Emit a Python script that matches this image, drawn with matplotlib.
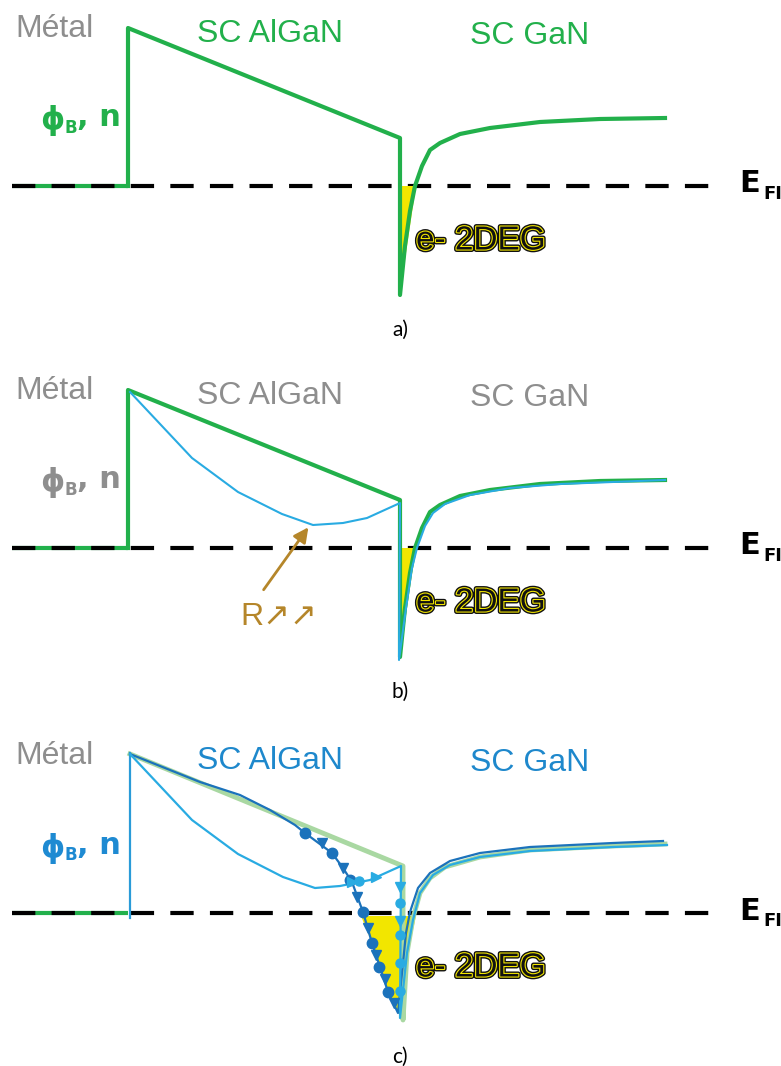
import numpy as np
import matplotlib.pyplot as plt
import matplotlib.patheffects as pe

# band profiles, x along the structure, energy above the Fermi level (same units)
metal_x = [12, 128]
band_x = [128, 128, 400, 400]
band_e = [0, 158, 48, -109]
gan_x = [400, 405, 410, 415, 422, 430, 440, 460, 490, 540, 600, 665]
gan_e = [-109, -60, -25, 0, 20, 36, 43, 52, 58, 64, 67, 68]
well_x = [400, 416, 400]
well_e = [0, 0, -107]

# panel b : high resistance barrier
bR_x = [130, 192, 238, 282, 313, 343, 367, 400, 399]
bR_e = [156, 90, 56, 34, 23, 25, 30, 45, -112]
bR_gan_x = [399, 406, 412, 417, 425, 433, 445, 470, 510, 560, 665]
bR_gan_e = [-112, -60, -20, 0, 22, 35, 44, 53, 60, 64, 68]

# panel c : trapping paths
cG_x = [130, 403, 403, 407, 413, 420, 430, 445, 480, 530, 613, 665]
cG_e = [159, 47, -107, -40, -5, 20, 35, 46, 56, 63, 67, 69]
cD_x = [130, 200, 240, 270, 295, 305, 332, 343, 352, 363, 372, 380, 388, 398]
cD_e = [159, 131, 118, 103, 88, 80, 60, 45, 31, 1, -30, -54, -79, -100]
cD_gan_x = [398, 402, 406, 410, 418, 430, 450, 480, 530, 613, 663]
cD_gan_e = [-100, -60, -20, 1, 25, 40, 52, 60, 66, 70, 72]
cL_x = [130, 192, 238, 283, 315, 340, 370, 401, 400]
cL_e = [159, 93, 59, 36, 25, 27, 33, 47, -105]
cL_gan_x = [400, 407, 413, 420, 433, 450, 480, 530, 613, 667]
cL_gan_e = [-105, -40, -7, 20, 38, 48, 56, 62, 66, 68]
dot_x = [305, 332, 363, 372, 379, 388, 350]
dot_e = [80, 60, 1, -30, -54, -79, 33]
tri_x = [322, 343, 357, 368, 376, 385, 394]
tri_e = [70, 45, 16, -15, -42, -66, -90]
lb_dot_x = [400, 400, 400, 400, 359]
lb_dot_e = [10, -22, -50, -78, 32]
lb_tri_x = [400, 400, 376, 352]
lb_tri_e = [26, -8, 36, 31]
cWell_x = [361, 372, 380, 388, 398, 401, 408, 416]
cWell_e = [-3, -30, -54, -79, -100, -103, -40, -3]

GREEN = '#22b04b'
GREY = '#8e8e8e'
LBLUE = '#29abe2'
DBLUE = '#1b72bb'
PGREEN = '#a9d8a2'
YEL = '#f2e600'
BROWN = '#b5862a'
FONT = ['Liberation Sans', 'DejaVu Sans']

fig = plt.figure(figsize=(7.81, 10.66), dpi=100)
ax = fig.add_axes([0, 0, 1, 1])
ax.set_xlim(0, 781)
ax.set_ylim(1066, 0)
ax.axis('off')


def Y(e, ef):
    return ef - np.asarray(e)


def frame(ef, lab_col, sc_col, phi_col, tag):
    ax.plot(metal_x, Y([0, 0], ef), color=GREEN, lw=3, solid_capstyle='butt', zorder=1)
    ax.plot([12, 720], Y([0, 0], ef), color='black', lw=3, dashes=(5.6, 3.9),
            dash_capstyle='butt', zorder=2)
    ax.text(15, ef - 157, 'Métal', color=lab_col, fontsize=23, family=FONT, va='center')
    ax.text(270, ef - 152, 'SC AlGaN', color=sc_col, fontsize=23, family=FONT,
            va='center', ha='center')
    ax.text(530, ef - 150, 'SC GaN', color=sc_col, fontsize=23, family=FONT,
            va='center', ha='center')
    ax.text(40, ef - 65, 'ϕ', color=phi_col, fontsize=22, family='DejaVu Sans',
            weight='bold', va='center')
    ax.text(65, ef - 58, 'B', color=phi_col, fontsize=12, family='DejaVu Sans',
            weight='bold', va='center')
    ax.text(77, ef - 68, ', n', color=phi_col, fontsize=22, family='DejaVu Sans',
            weight='bold', va='center')
    ax.text(739, ef - 2, 'E', color='black', fontsize=22, family='DejaVu Sans',
            weight='bold', va='center')
    ax.text(763, ef + 8, 'FI', color='black', fontsize=13, family='DejaVu Sans',
            weight='bold', va='center')
    ax.text(416, ef + 55, 'e- 2DEG', color='#111111', fontsize=24, family=FONT,
            va='center', zorder=6,
            path_effects=[pe.Stroke(linewidth=3.6, foreground='#111111'),
                          pe.Stroke(linewidth=1.6, foreground=YEL),
                          pe.Normal()])
    ax.text(400, ef + 144, tag, color='black', fontsize=15, family='Lato',
            va='center', ha='center')


# ---- a)
ef = 186
frame(ef, GREY, GREEN, GREEN, 'a)')
ax.fill(well_x, Y(well_e, ef), color=YEL, lw=0, zorder=3)
ax.plot(band_x + gan_x, Y(band_e + gan_e, ef), color=GREEN, lw=3, zorder=4)

# ---- b)
ef = 548
frame(ef, GREY, GREY, GREY, 'b)')
ax.fill(well_x, Y(well_e, ef), color=YEL, lw=0, zorder=3)
ax.plot(band_x + gan_x, Y(band_e + gan_e, ef), color=GREEN, lw=3, zorder=4)
ax.plot(bR_x + bR_gan_x, Y(bR_e + bR_gan_e, ef), color=LBLUE, lw=1.5, zorder=5)
ax.annotate('', xy=(310, ef - 23), xytext=(262, ef + 44),
            arrowprops=dict(arrowstyle='-|>', color=BROWN, lw=2, mutation_scale=22))
ax.text(240, ef + 69, 'R↗↗', color=BROWN, fontsize=23, family=FONT, va='center')

# ---- c)
ef = 913
frame(ef, GREY, '#1e88cc', '#1e8ad2', 'c)')
ax.fill(cWell_x, Y(cWell_e, ef), color=YEL, lw=0, zorder=3)
ax.plot([130, 130], Y([-5, 160], ef), color='#2a9bd8', lw=1.6, zorder=4)
ax.plot(cG_x, Y(cG_e, ef), color=PGREEN, lw=3.5, zorder=3)
ax.plot(cD_x + cD_gan_x, Y(cD_e + cD_gan_e, ef), color=DBLUE, lw=1.6, zorder=5)
ax.plot(cL_x + cL_gan_x, Y(cL_e + cL_gan_e, ef), color=LBLUE, lw=1.6, zorder=5)
ax.plot(dot_x, Y(dot_e, ef), 'o', color=DBLUE, ms=7.5, zorder=6)
ax.plot(tri_x, Y(tri_e, ef), 'v', color=DBLUE, ms=7.5, zorder=6)
ax.plot(lb_dot_x, Y(lb_dot_e, ef), 'o', color=LBLUE, ms=6.5, zorder=6)
ax.plot(lb_tri_x[:2], Y(lb_tri_e[:2], ef), 'v', color=LBLUE, ms=7, zorder=6)
ax.plot(lb_tri_x[2:], Y(lb_tri_e[2:], ef), '>', color=LBLUE, ms=7, zorder=6)

fig.savefig('out.png', dpi=100)
